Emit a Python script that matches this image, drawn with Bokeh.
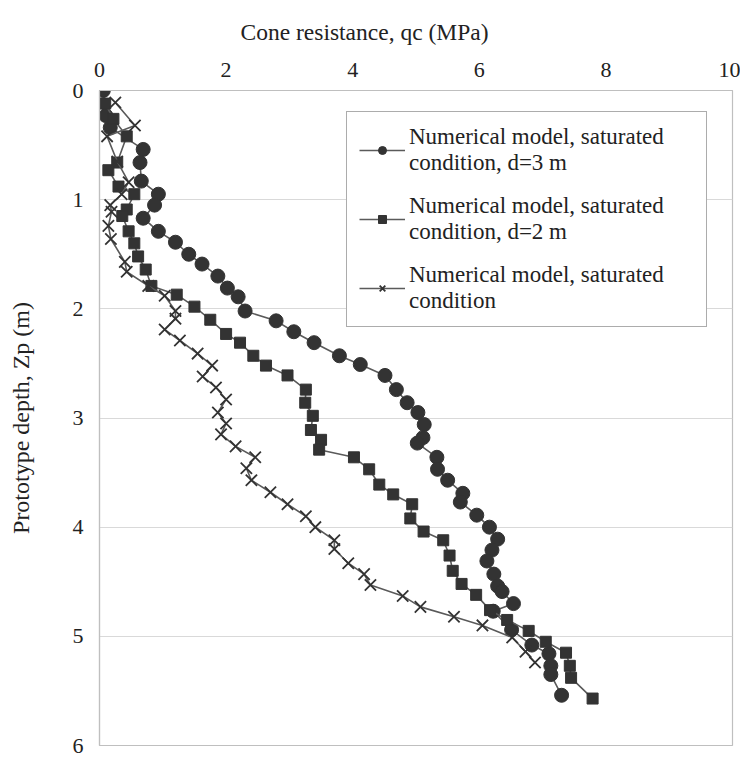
from bokeh.plotting import figure
from bokeh.models import Range1d, Legend, LegendItem, FixedTicker, Title
from bokeh.embed import file_html
from bokeh.resources import INLINE

# Series: Numerical model, saturated condition, d=3 m (circles)
qc_d3 = [0.06, 0.10, 0.17, 0.69, 0.64, 0.66, 0.93, 0.87, 0.69, 0.93, 1.20, 1.41, 1.62,
         1.87, 2.02, 2.19, 2.30, 2.79, 3.07, 3.39, 3.79, 4.12, 4.51, 4.69, 4.86, 5.03,
         5.13, 5.11, 5.02, 5.33, 5.34, 5.50, 5.74, 5.70, 5.96, 6.16, 6.29, 6.20, 6.12,
         6.23, 6.29, 6.36, 6.54, 6.22, 6.51, 6.83, 7.10, 7.13, 7.13, 7.30]
z_d3 = [0.00, 0.23, 0.34, 0.54, 0.66, 0.83, 0.95, 1.05, 1.17, 1.29, 1.39, 1.50, 1.59,
        1.70, 1.81, 1.89, 2.02, 2.11, 2.21, 2.31, 2.43, 2.51, 2.61, 2.74, 2.86, 2.95,
        3.06, 3.18, 3.23, 3.36, 3.47, 3.57, 3.69, 3.77, 3.89, 4.00, 4.11, 4.21, 4.31,
        4.43, 4.54, 4.59, 4.70, 4.77, 4.94, 5.08, 5.16, 5.27, 5.35, 5.54]

# Series: Numerical model, saturated condition, d=2 m (squares)
qc_d2 = [0.09, 0.22, 0.43, 0.28, 0.14, 0.30, 0.55, 0.43, 0.36, 0.46, 0.55, 0.61, 0.73,
         0.82, 1.22, 1.50, 1.75, 2.00, 2.22, 2.43, 2.63, 2.97, 3.26, 3.25, 3.37, 3.34,
         3.50, 3.47, 4.02, 4.26, 4.42, 4.64, 4.94, 4.91, 5.12, 5.43, 5.53, 5.58, 5.72,
         5.95, 6.17, 6.44, 6.78, 7.05, 7.37, 7.43, 7.45, 7.79]
z_d2 = [0.12, 0.26, 0.42, 0.66, 0.73, 0.88, 0.95, 1.09, 1.15, 1.29, 1.40, 1.52, 1.64,
        1.79, 1.87, 1.98, 2.10, 2.23, 2.31, 2.43, 2.52, 2.61, 2.74, 2.86, 2.98, 3.11,
        3.20, 3.29, 3.36, 3.47, 3.61, 3.70, 3.79, 3.92, 4.04, 4.12, 4.26, 4.40, 4.52,
        4.62, 4.76, 4.85, 4.95, 5.05, 5.15, 5.27, 5.38, 5.57]

# Series: Numerical model, saturated condition (crosses)
qc_sat = [0.25, 0.56, 0.12, 0.28, 0.46, 0.35, 0.17, 0.19, 0.14, 0.18, 0.40, 0.43, 0.77,
          1.03, 1.20, 1.20, 1.03, 1.27, 1.55, 1.78, 1.63, 1.84, 2.00, 1.87, 2.00, 1.92,
          2.15, 2.46, 2.32, 2.40, 2.70, 2.97, 3.26, 3.41, 3.71, 3.71, 3.93, 4.18, 4.28,
          4.79, 5.07, 5.60, 6.05, 6.52, 6.73, 6.88]
z_sat = [0.11, 0.32, 0.42, 0.65, 0.84, 0.95, 1.05, 1.11, 1.24, 1.36, 1.57, 1.66, 1.79,
         1.88, 2.02, 2.09, 2.19, 2.29, 2.41, 2.52, 2.62, 2.72, 2.83, 2.95, 3.05, 3.15,
         3.26, 3.36, 3.46, 3.57, 3.68, 3.79, 3.90, 4.00, 4.12, 4.20, 4.33, 4.43, 4.53,
         4.63, 4.73, 4.82, 4.90, 5.01, 5.14, 5.24]

x_ticks = [0, 2, 4, 6, 8, 10]
y_ticks = [0, 1, 2, 3, 4, 5, 6]
x_title = "Cone resistance, qc (MPa)"
y_title = "Prototype depth, Zp (m)"
labels = ["Numerical model, saturated\ncondition, d=3 m",
          "Numerical model, saturated\ncondition, d=2 m",
          "Numerical model, saturated\ncondition"]

FONT = "Liberation Serif"
TXT_C = "#222222"
LINE_C = "#5a5a5a"
MARK_C = "#333333"

p = figure(width=740, height=757, x_range=Range1d(0, 10), y_range=Range1d(6, 0),
           x_axis_location="above", output_backend="svg", toolbar_location=None,
           min_border_left=99, min_border_right=8, min_border_top=90, min_border_bottom=12)

p.outline_line_color = "#bfbfbf"
p.outline_line_width = 1.2
p.xgrid.grid_line_color = None
p.ygrid.grid_line_color = "#d9d9d9"
p.ygrid.grid_line_width = 1.2

p.xaxis.ticker = FixedTicker(ticks=x_ticks)
p.yaxis.ticker = FixedTicker(ticks=y_ticks)
for ax in (p.xaxis, p.yaxis):
    ax.axis_line_color = "#bfbfbf"
    ax.axis_line_width = 1.2
    ax.major_tick_line_color = None
    ax.minor_tick_line_color = None
    ax.major_label_text_font = FONT
    ax.major_label_text_font_size = "22px"
    ax.major_label_text_color = TXT_C
    ax.axis_label_text_font = FONT
    ax.axis_label_text_font_style = "normal"
    ax.axis_label_text_color = TXT_C

p.xaxis.major_label_standoff = 8
p.yaxis.axis_label = y_title
p.yaxis.axis_label_text_font_size = "24px"
p.yaxis.major_label_standoff = 10
p.yaxis.axis_label_standoff = 36

t = Title(text=x_title, align="left", offset=141, standoff=30,
          text_font=FONT, text_font_size="23.5px", text_font_style="normal",
          text_color=TXT_C)
p.add_layout(t, "above")

l1 = p.line(qc_d3, z_d3, line_color=LINE_C, line_width=1.6)
s1 = p.scatter(qc_d3, z_d3, marker="circle", size=14, fill_color=MARK_C, line_color=MARK_C)
l2 = p.line(qc_d2, z_d2, line_color=LINE_C, line_width=1.6)
s2 = p.scatter(qc_d2, z_d2, marker="square", size=11, fill_color=MARK_C, line_color=MARK_C)
l3 = p.line(qc_sat, z_sat, line_color=LINE_C, line_width=1.6)
s3 = p.scatter(qc_sat, z_sat, marker="x", size=16, line_color=MARK_C, line_width=1.8)

legend = Legend(items=[LegendItem(label=labels[0], renderers=[l1, s1]),
                       LegendItem(label=labels[1], renderers=[l2, s2]),
                       LegendItem(label=labels[2], renderers=[l3, s3])],
                location=(247, 418))
legend.label_text_font = FONT
legend.label_text_font_size = "23px"
legend.label_text_color = TXT_C
legend.glyph_width = 46
legend.glyph_height = 20
legend.label_standoff = 4
legend.label_width = 285
legend.spacing = 17
legend.padding = 12
legend.margin = 0
legend.border_line_color = "#595959"
legend.border_line_width = 1.2
legend.background_fill_alpha = 1.0
p.add_layout(legend)

open("out.html", "w").write(file_html(p, INLINE))
